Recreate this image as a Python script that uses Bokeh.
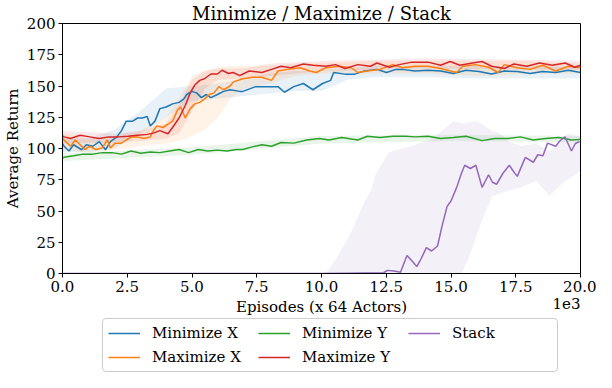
from bokeh.plotting import figure
from bokeh.layouts import column
from bokeh.models import (Legend, LegendItem, Label, FixedTicker, PrintfTickFormatter, Range1d)
from bokeh.embed import file_html
from bokeh.resources import INLINE

# ---------------- data (x in thousands of episodes) ----------------
blue_pts = [(0.0, 104), (0.06, 101.8), (0.25, 98), (0.43, 103), (0.74, 99), (0.92, 103), (1.17, 101.8),
            (1.42, 105.5), (1.66, 99), (1.85, 105.5), (2.1, 109.3), (2.28, 114.3), (2.46, 121.9), (2.71, 121.9),
            (2.9, 124.4), (3.08, 124.4), (3.27, 125.6), (3.39, 118), (3.57, 121.9), (3.76, 131.9), (4.0, 133.2),
            (4.25, 135.7), (4.5, 136.9), (4.68, 139.5), (4.8, 143.2), (4.99, 145.7), (5.18, 144.5), (5.36, 140.7),
            (5.55, 143.2), (5.73, 140.7), (5.98, 143.2), (6.22, 145.7), (6.47, 147), (6.84, 145.7), (6.96, 145.7),
            (7.46, 149.5), (7.95, 149.5), (8.32, 149.5), (8.57, 145), (8.93, 149.5), (9.3, 152), (9.67, 147),
            (10.04, 152), (10.35, 154.5), (10.47, 160.8), (10.9, 159.5), (11.28, 159.5), (11.65, 162),
            (12.14, 163.3), (12.51, 160.8), (12.88, 163.3), (13.12, 163.3), (13.61, 162), (14.11, 162.6),
            (14.6, 162), (15.09, 160), (15.58, 162.6), (16.08, 161.6), (16.57, 159.6), (17.06, 162),
            (17.56, 161.6), (18.05, 160), (18.54, 161.6), (19.04, 160.8), (19.53, 162.6), (20.0, 160.8)]
orange_pts = [(0.0, 108), (0.06, 106.8), (0.31, 101.8), (0.49, 106.8), (0.68, 103), (0.86, 99.2), (1.05, 101.8),
              (1.29, 99.2), (1.54, 100.5), (1.73, 106.8), (1.85, 100.5), (2.03, 104.3), (2.28, 104.3),
              (2.46, 106.8), (2.65, 109.3), (2.9, 109.3), (3.14, 108), (3.39, 109.3), (3.51, 114.3),
              (3.64, 118.1), (3.88, 116.8), (4.07, 119.4), (4.25, 121.9), (4.44, 130.7), (4.56, 133.2),
              (4.74, 124.4), (4.93, 131.9), (5.11, 135.7), (5.3, 136.9), (5.48, 139.5), (5.67, 143.2),
              (5.85, 144.5), (6.04, 149.5), (6.22, 147), (6.47, 150), (6.6, 153.3), (6.96, 155.8), (7.33, 157),
              (7.7, 157), (8.07, 154.5), (8.32, 162), (8.69, 163.3), (9.18, 164.6), (9.55, 162), (9.8, 160.8),
              (10.17, 164.6), (10.66, 165.8), (11.15, 164.6), (11.4, 160.8), (11.77, 162), (12.26, 163.3),
              (12.75, 167.1), (13.12, 164.6), (13.61, 165.8), (14.11, 165.8), (14.6, 164), (15.21, 160.8),
              (15.46, 165.8), (15.95, 167.1), (16.45, 165), (16.82, 160.8), (17.06, 167.1), (17.56, 164.6),
              (18.05, 163.3), (18.54, 166.6), (19.04, 162), (19.53, 165.8), (20.0, 164.6)]
green_pts = [(0.0, 92), (0.06, 93), (0.43, 94.2), (0.8, 95.5), (1.17, 95.5), (1.54, 96.7), (1.91, 96.7),
             (2.28, 95.5), (2.65, 98), (3.02, 96.2), (3.39, 97.2), (3.76, 96.7), (4.13, 98), (4.5, 99.2),
             (4.87, 96.7), (5.24, 99.2), (5.61, 98), (5.98, 98.7), (6.35, 98), (6.72, 99.2), (6.96, 99.2),
             (7.33, 101.3), (7.7, 103), (8.07, 101.8), (8.44, 104.8), (8.93, 104.3), (9.43, 106.8), (9.92, 108),
             (10.29, 106.8), (10.78, 108.8), (11.4, 106.8), (11.77, 109.8), (12.26, 108.8), (12.75, 109.8),
             (13.25, 109.8), (13.61, 109.3), (14.11, 109.8), (14.6, 108), (15.09, 108.8), (15.58, 109.8),
             (16.2, 106.3), (16.69, 108), (17.19, 108), (17.68, 109.3), (18.17, 106.8), (18.66, 108),
             (19.16, 108.8), (19.65, 106.8), (20.0, 107.3)]
red_pts = [(0.0, 110), (0.06, 109.3), (0.31, 108), (0.68, 110.6), (1.05, 109.3), (1.42, 108), (1.79, 109.3),
           (2.16, 109.3), (2.53, 109.8), (2.9, 110.6), (3.27, 111.3), (3.51, 112.3), (3.76, 114.3), (4.07, 111.8),
           (4.25, 116.8), (4.5, 124.4), (4.74, 134.4), (4.93, 144.5), (5.11, 150.8), (5.3, 154.5), (5.48, 155.8),
           (5.73, 159.6), (5.98, 159.6), (6.16, 162.6), (6.41, 160), (6.59, 160.8), (6.84, 158.3), (7.21, 162),
           (7.7, 160.8), (8.07, 163.3), (8.44, 165.8), (8.81, 164.6), (9.3, 167.6), (9.67, 166.6),
           (10.17, 165.8), (10.54, 167.1), (10.91, 164), (11.4, 167.1), (11.89, 165.8), (12.14, 168.4),
           (12.63, 165), (13.0, 167.1), (13.49, 169.1), (14.11, 169.1), (14.6, 166.6), (14.97, 169.6),
           (15.34, 166.6), (15.83, 168.4), (16.2, 169.6), (16.57, 165.8), (17.06, 164), (17.43, 167.6),
           (17.93, 165.8), (18.42, 168.4), (18.91, 166.6), (19.41, 168.4), (19.78, 165), (20.0, 166.6)]
purple_pts = [(0.0, 0.0), (5.0, 0.0), (10.0, 0.0), (11.0, 0.3), (12.4, 0.6), (12.54, 2.5), (12.8, 2.0),
              (13.05, 1.0), (13.3, 14.4), (13.5, 10), (13.68, 5.5), (13.85, 12), (14.05, 20.7), (14.25, 18),
              (14.48, 22), (14.66, 38.5), (14.85, 53.7), (15.0, 58), (15.22, 68.9), (15.4, 80), (15.53, 86.6),
              (15.75, 84), (15.96, 86.6), (16.2, 68.9), (16.45, 79), (16.6, 73), (16.76, 71.4), (17.0, 80),
              (17.25, 86.6), (17.4, 82), (17.56, 77.7), (17.87, 92.9), (18.18, 89), (18.35, 95), (18.55, 94.2),
              (18.73, 104.3), (19.04, 101.8), (19.2, 106), (19.4, 109.4), (19.65, 98), (19.8, 104), (19.96, 105.6)]

# shaded spread bands: (x, low, high)
blue_band = [(0, 97, 108), (1, 97, 108), (2, 100, 115), (3, 112, 130), (4, 125, 148), (5, 138, 150),
             (6, 140, 152), (7, 142, 156), (8, 144, 160), (9, 146, 162), (10, 146, 162), (11, 155, 164),
             (12, 157, 166), (14, 157, 166), (16, 156, 166), (18, 156, 166), (20, 156, 165)]
orange_band = [(0, 98, 112), (1, 97, 108), (2, 99, 110), (3, 102, 114), (4, 104, 125), (4.5, 106, 140),
               (5, 110, 158), (5.5, 115, 162), (6, 125, 165), (6.5, 140, 166), (7, 148, 166), (8, 152, 166),
               (9, 158, 168), (10, 160, 168), (12, 160, 170), (14, 160, 170), (16, 158, 170), (18, 160, 170),
               (20, 160, 168)]
green_band = [(0, 90, 96), (5, 95, 101), (10, 104, 110), (15, 106, 111), (20, 105, 110)]
red_band = [(0, 104, 114), (2, 105, 112), (3, 106, 114), (4, 108, 120), (4.5, 112, 135), (5, 130, 155),
            (5.5, 148, 162), (6, 155, 164), (7, 156, 164), (8, 158, 168), (10, 162, 170), (14, 164, 172),
            (18, 163, 171), (20, 163, 170)]
purple_band = [(0, 0, 0), (10.0, 0, 0), (10.2, 0, 1), (10.6, 0, 13), (11.1, 0, 31), (11.6, 0, 55),
               (11.9, 0, 66), (12.1, 0, 80), (12.6, 0, 97), (13.5, 0, 102), (14.2, 0, 107), (14.7, 0, 115),
               (15.1, 0, 122), (15.4, 0, 120), (15.7, 13, 121), (16.0, 31, 122), (16.3, 48, 118),
               (16.6, 62, 114), (16.9, 64, 112), (17.2, 66, 106), (17.7, 69, 102), (18.3, 74, 104),
               (18.8, 62, 98), (19.2, 70, 106), (19.5, 75, 112), (20.0, 82, 110)]

series_names = ["Minimize X", "Maximize X", "Minimize Y", "Maximize Y", "Stack"]
colors = ["#1f77b4", "#ff7f0e", "#2ca02c", "#d62728", "#9467bd"]
x_ticks = [0, 2.5, 5, 7.5, 10, 12.5, 15, 17.5, 20]
y_ticks = [0, 25, 50, 75, 100, 125, 150, 175, 200]

FONT = "DejaVu Serif"
W = 596
H2 = 78
H1 = 372 - H2
LEFT = 54
RIGHT = 16

p = figure(width=W, height=H1, x_range=(0, 20), y_range=(0, 200),
           output_backend="svg", toolbar_location=None,
           title="Minimize / Maximize / Stack",
           min_border_left=LEFT, min_border_right=RIGHT, min_border_top=0, min_border_bottom=0)

p.title.text_font = FONT
p.title.text_font_size = "18px"
p.title.text_font_style = "normal"
p.title.text_color = "black"
p.title.align = "center"
p.title.standoff = 0

all_pts = [blue_pts, orange_pts, green_pts, red_pts, purple_pts]
all_bands = [blue_band, orange_band, green_band, red_band, purple_band]

for band, col in zip(all_bands, colors):
    bx = [b[0] for b in band]
    lo = [b[1] for b in band]
    hi = [b[2] for b in band]
    p.varea(x=bx, y1=lo, y2=hi, fill_color=col, fill_alpha=0.1)

for pts, col in zip(all_pts, colors):
    xs = [q[0] for q in pts]
    ys = [q[1] for q in pts]
    p.line(xs, ys, line_color=col, line_width=1.5)

p.xgrid.visible = False
p.ygrid.visible = False
p.outline_line_color = "black"
p.outline_line_alpha = 1
p.outline_line_width = 1

for ax in (p.xaxis[0], p.yaxis[0]):
    ax.axis_line_color = "black"
    ax.major_tick_line_color = "black"
    ax.major_tick_out = 4
    ax.major_tick_in = 0
    ax.minor_tick_line_color = None
    ax.major_label_text_font = FONT
    ax.major_label_text_font_size = "15px"
    ax.major_label_text_color = "black"
    ax.axis_label_text_font = FONT
    ax.axis_label_text_font_size = "15px"
    ax.axis_label_text_font_style = "normal"
    ax.axis_label_text_color = "black"
    ax.major_label_standoff = 3

p.xaxis.ticker = FixedTicker(ticks=x_ticks)
p.xaxis.formatter = PrintfTickFormatter(format="%.1f")
p.yaxis.ticker = FixedTicker(ticks=y_ticks)
p.yaxis.axis_label = "Average Return"
p.yaxis.axis_label_standoff = 2

# --- lower strip: x-axis title, offset text and legend, aligned with the main frame ---
p2 = figure(width=W, height=H2, x_range=p.x_range, y_range=Range1d(-2, -1),
            output_backend="svg", toolbar_location=None,
            x_axis_location=None, y_axis_location=None,
            min_border_left=LEFT, min_border_right=RIGHT, min_border_top=0, min_border_bottom=0)
p2.xgrid.visible = False
p2.ygrid.visible = False
p2.outline_line_color = None

p2.add_layout(Label(x=10, y=H2 - 3, x_units="data", y_units="screen", text="Episodes (x 64 Actors)",
                    text_align="center", text_baseline="top", text_font=FONT,
                    text_font_size="15px", text_color="black"))
p2.add_layout(Label(x=20, y=H2 - 3, x_units="data", y_units="screen", text="1e3",
                    text_align="right", text_baseline="top", text_font=FONT,
                    text_font_size="15px", text_color="black"))

# legend proxies: same series drawn again, but outside this strip's visible y-range
leg_renderers = []
for pts, col in zip(all_pts, colors):
    leg_renderers.append(p2.line([q[0] for q in pts], [q[1] for q in pts], line_color=col, line_width=1.5))
items = [LegendItem(label=n, renderers=[r]) for n, r in zip(series_names, leg_renderers)]
legend = Legend(items=items, orientation="vertical", nrows=2, location=(40, 0),
                label_text_font=FONT, label_text_font_size="15px", label_text_color="black",
                glyph_width=32, glyph_height=16, label_height=16, label_standoff=12,
                label_width=100, spacing=6, padding=5, margin=0,
                border_line_color="#cccccc", border_line_alpha=1,
                background_fill_alpha=0.8)
if "border_radius" in Legend.properties():
    legend.border_radius = 4
p2.add_layout(legend, "center")

layout = column(p, p2, spacing=0)
open("out.html", "w").write(file_html(layout, INLINE))
